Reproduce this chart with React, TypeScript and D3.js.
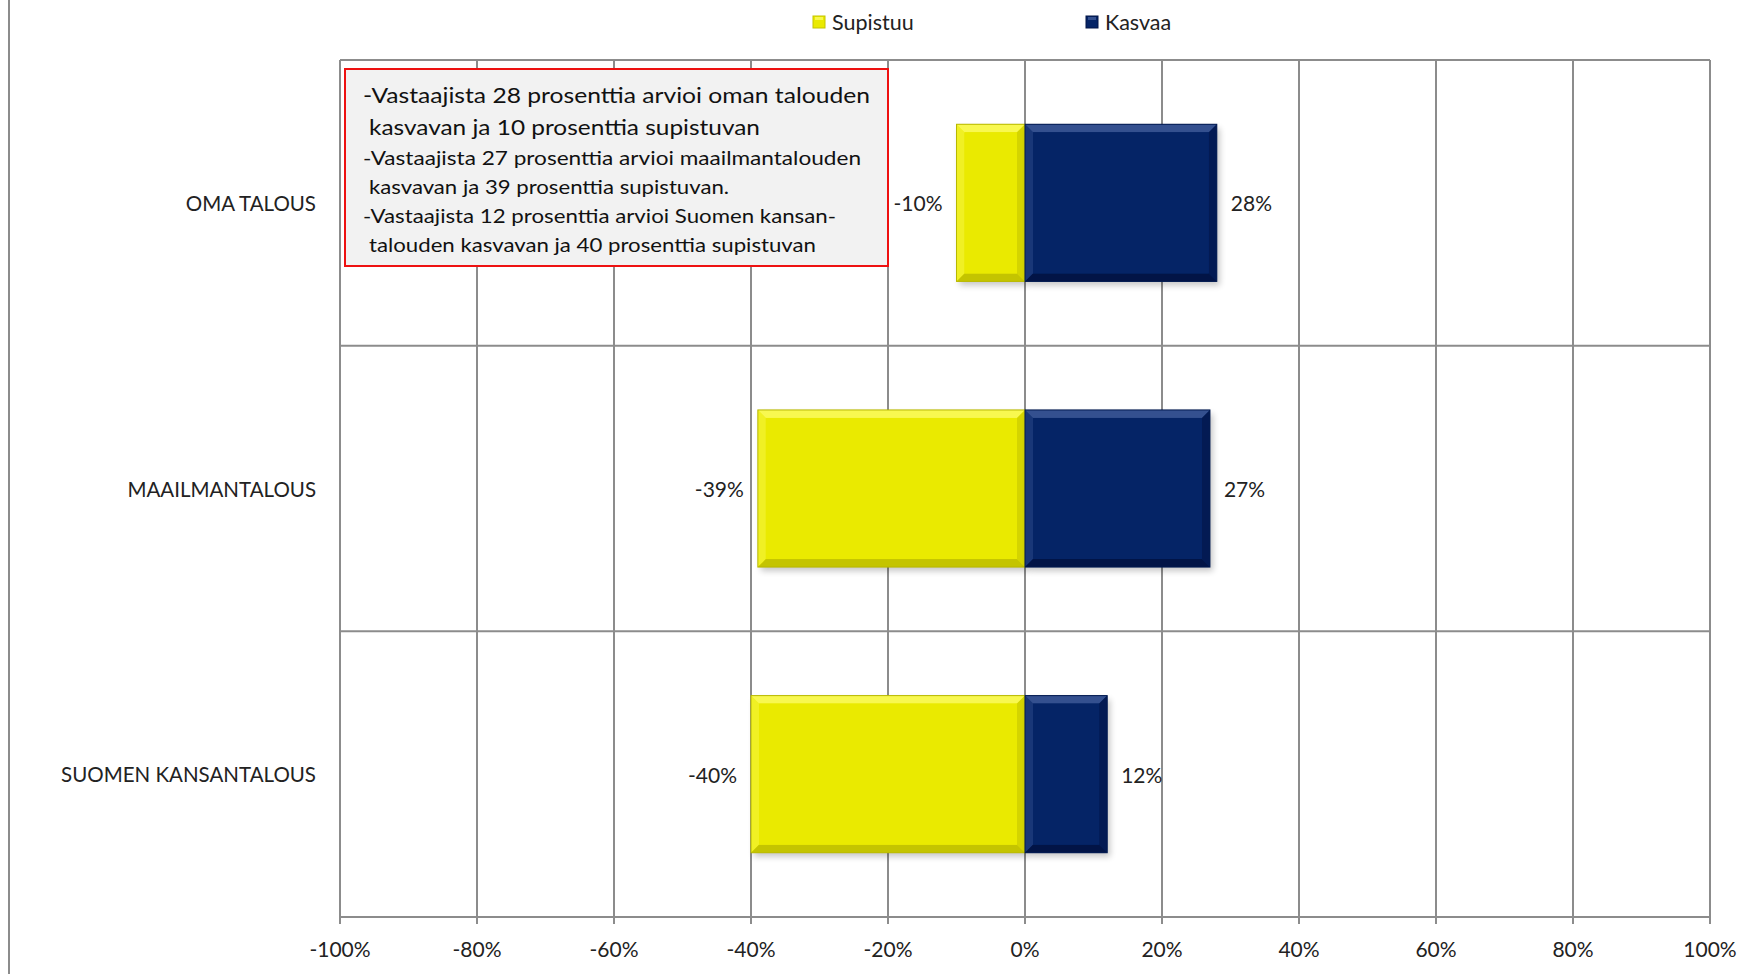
import React from "react";
import * as d3 from "d3";

const categories = ["OMA TALOUS", "MAAILMANTALOUS", "SUOMEN KANSANTALOUS"];
const supistuu = [-10, -39, -40];
const kasvaa = [28, 27, 12];
const xTicks = [-100, -80, -60, -40, -20, 0, 20, 40, 60, 80, 100];
const seriesNames = ["Supistuu", "Kasvaa"];
const noteLines = [
  "-Vastaajista 28 prosenttia arvioi oman talouden",
  " kasvavan ja 10 prosenttia supistuvan",
  "-Vastaajista 27 prosenttia arvioi maailmantalouden",
  " kasvavan ja 39 prosenttia supistuvan.",
  "-Vastaajista 12 prosenttia arvioi Suomen kansan-",
  " talouden kasvavan ja 40 prosenttia supistuvan",
];

const W = 1753;
const H = 974;
const M = { left: 340, right: 1710, top: 60, bottom: 917 };
const FONT = "Lato, 'Open Sans', sans-serif";
const GRID = "#8c8c8c";

const palette = {
  Supistuu: { main: "#EAEA00", light: "#F8F850", dark: "#C4C400", edge: "#B8B800" },
  Kasvaa: { main: "#052466", light: "#34508F", dark: "#021446", edge: "#021a50" },
};

function BevelBar({ x0, x1, y, h, c }: { x0: number; x1: number; y: number; h: number; c: any }) {
  const w = x1 - x0;
  const b = Math.min(8, w / 2);
  return (
    <g>
      <rect x={x0 + 3} y={y + 4} width={w} height={h} fill="#000" opacity={0.22} filter="url(#shadow)" />
      <rect x={x0} y={y} width={w} height={h} fill={c.main} />
      <polygon points={`${x0},${y} ${x1},${y} ${x1 - b},${y + b} ${x0 + b},${y + b}`} fill={c.light} />
      <polygon points={`${x0},${y} ${x0 + b},${y + b} ${x0 + b},${y + h - b} ${x0},${y + h}`} fill={c.light} opacity={0.45} />
      <polygon points={`${x0},${y + h} ${x0 + b},${y + h - b} ${x1 - b},${y + h - b} ${x1},${y + h}`} fill={c.dark} />
      <polygon points={`${x1},${y} ${x1},${y + h} ${x1 - b},${y + h - b} ${x1 - b},${y + b}`} fill={c.dark} opacity={0.6} />
      <rect x={x0 + b} y={y + b} width={Math.max(0, w - 2 * b)} height={h - 2 * b} fill={c.main} />
      <rect x={x0} y={y} width={w} height={h} fill="none" stroke={c.edge} strokeWidth={1} />
    </g>
  );
}

export default function App() {
  const x = d3.scaleLinear().domain([-100, 100]).range([M.left, M.right]);
  const y = d3
    .scaleBand<string>()
    .domain(categories)
    .range([M.top, M.bottom])
    .paddingInner(0.45)
    .paddingOuter(0.225);
  const step = y.step();
  const bw = y.bandwidth();
  const boundaries = d3.range(categories.length + 1).map((i) => M.top + i * step);
  const fmt = (v: number) => `${v}%`;

  const noteSizes = [22, 22, 19, 19, 19, 19];
  const noteY = [94, 126, 157, 186, 215, 244];
  const noteW = [507, 391, 498, 360, 473, 447];

  return (
    <svg width={W} height={H} style={{ position: "absolute", left: 0, top: 0, background: "#fff" }} fontFamily={FONT}>
      <defs>
        <filter id="shadow" x="-10%" y="-10%" width="130%" height="130%">
          <feGaussianBlur stdDeviation="3" />
        </filter>
      </defs>
      <rect width={W} height={H} fill="#fff" />
      <line x1={9} x2={9} y1={0} y2={H} stroke={GRID} strokeWidth={2} />

      {/* legend */}
      {seriesNames.map((s, i) => {
        const lx = i === 0 ? 813 : 1086;
        const c = (palette as any)[s];
        return (
          <g key={s}>
            <rect x={lx} y={16} width={12} height={12} fill={c.main} stroke={c.dark} strokeWidth={1} />
            <rect x={lx + 2} y={17} width={8} height={3} fill={c.light} />
            <text x={lx + 19} y={22} dominantBaseline="central" fontSize={21.5} fill="#222">
              {s}
            </text>
          </g>
        );
      })}

      {/* gridlines */}
      {xTicks.map((t) => (
        <line key={"g" + t} x1={x(t)} x2={x(t)} y1={M.top} y2={M.bottom + 7} stroke={GRID} strokeWidth={2} />
      ))}
      {boundaries.map((b, i) => (
        <line key={"h" + i} x1={M.left} x2={M.right} y1={b} y2={b} stroke={GRID} strokeWidth={2} />
      ))}

      {/* bars */}
      {categories.map((cat, i) => {
        const y0 = y(cat)!;
        return (
          <g key={cat}>
            <BevelBar x0={x(supistuu[i])} x1={x(0)} y={y0} h={bw} c={palette.Supistuu} />
            <BevelBar x0={x(0)} x1={x(kasvaa[i])} y={y0} h={bw} c={palette.Kasvaa} />
            <text x={x(supistuu[i]) - 14} y={y0 + bw / 2} textAnchor="end" dominantBaseline="central" fontSize={21} fill="#222">
              {fmt(supistuu[i])}
            </text>
            <text x={x(kasvaa[i]) + 14} y={y0 + bw / 2} textAnchor="start" dominantBaseline="central" fontSize={21} fill="#222">
              {fmt(kasvaa[i])}
            </text>
            <text x={316} y={y0 + bw / 2} textAnchor="end" dominantBaseline="central" fontSize={20.5} fill="#222">
              {cat}
            </text>
          </g>
        );
      })}

      {/* x tick labels */}
      {xTicks.map((t) => (
        <text key={"t" + t} x={x(t)} y={948} textAnchor="middle" dominantBaseline="central" fontSize={21} fill="#222">
          {fmt(t)}
        </text>
      ))}

      {/* note box */}
      <rect x={345} y={69} width={543} height={197} fill="#f2f2f2" stroke="#ee1111" strokeWidth={2} />
      {noteLines.map((l, i) => (
        <text
          key={"n" + i}
          x={l.startsWith(" ") ? 369 : 363}
          y={noteY[i]}
          dominantBaseline="central"
          fontSize={noteSizes[i]}
          fill="#111"
          textLength={noteW[i]}
          lengthAdjust="spacingAndGlyphs"
        >
          {l.trim()}
        </text>
      ))}
    </svg>
  );
}
